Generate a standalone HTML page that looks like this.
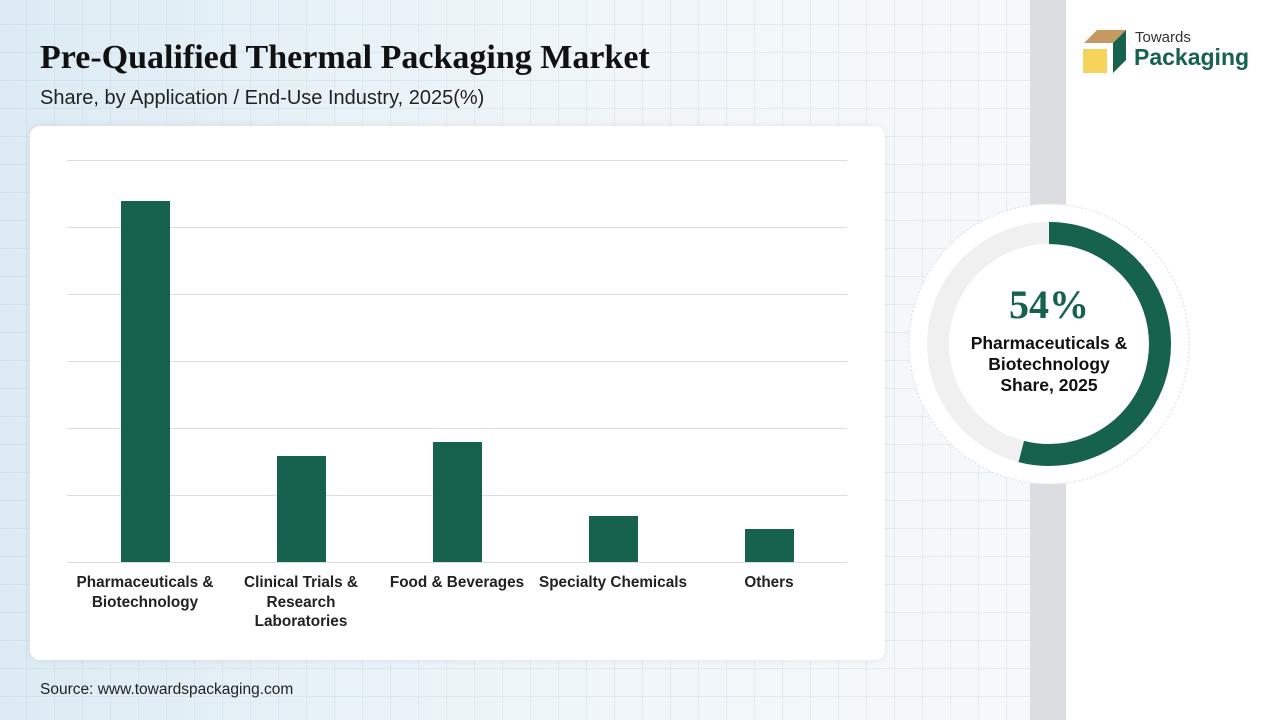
<!DOCTYPE html>
<html><head><style>
body{margin:0;width:1280px;height:720px;overflow:hidden;font-family:"Liberation Sans",sans-serif;position:relative;
background:linear-gradient(90deg,#dcebf3 0%,#eef5f9 40%,#f6f9fb 80%,#fff 100%);}
.grid{position:absolute;left:0;top:0;width:1030px;height:720px;
background-image:linear-gradient(rgba(180,200,215,.25) 1px,transparent 1px),linear-gradient(90deg,rgba(180,200,215,.25) 1px,transparent 1px);background-size:28px 28px;background-position:-2px -4px;}
.strip{position:absolute;left:1030px;top:0;width:36px;height:720px;background:#dcdde0}
.right{position:absolute;left:1066px;top:0;width:214px;height:720px;background:#fff}
h1{position:absolute;left:40px;top:39px;margin:0;font-family:"Liberation Serif",serif;font-size:34px;font-weight:bold;color:#111;white-space:nowrap}
.sub{position:absolute;left:40px;top:87px;font-size:20px;color:#222;white-space:nowrap}
.card{position:absolute;left:30px;top:126px;width:855px;height:534px;background:#fff;border-radius:10px;box-shadow:0 0 8px rgba(0,0,0,.08)}
.lbl{position:absolute;width:170px;text-align:center;font-size:15.3px;font-weight:bold;color:#222;line-height:19.5px;top:573px}
.src{position:absolute;left:40px;top:681px;font-size:15.5px;color:#222}
</style></head><body>
<div class="grid"></div><div class="strip"></div><div class="right"></div>
<h1>Pre-Qualified Thermal Packaging Market</h1>
<div class="sub">Share, by Application / End-Use Industry, 2025(%)</div>
<div class="card"></div>
<svg style="position:absolute;left:0;top:0" width="1280" height="720">
<g stroke="#dcdcdc" stroke-width="1">
<line x1="67" x2="847" y1="160.5" y2="160.5"/><line x1="67" x2="847" y1="227.5" y2="227.5"/><line x1="67" x2="847" y1="294.5" y2="294.5"/><line x1="67" x2="847" y1="361.5" y2="361.5"/><line x1="67" x2="847" y1="428.5" y2="428.5"/><line x1="67" x2="847" y1="495.5" y2="495.5"/><line x1="67" x2="847" y1="562.5" y2="562.5"/></g>
<g fill="#17614f">
<rect x="121" y="201" width="49" height="361"/><rect x="277" y="456" width="49" height="106"/><rect x="433" y="442" width="49" height="120"/><rect x="589" y="516" width="49" height="46"/><rect x="745" y="529" width="49" height="33"/></g>
<circle cx="1049" cy="344" r="140" fill="#fff" stroke="#e6e6e6" stroke-width="1.5" stroke-dasharray="2 2"/>
<circle cx="1049" cy="344" r="111" fill="none" stroke="#f0f0f0" stroke-width="22"/>
<circle cx="1049" cy="344" r="111" fill="none" stroke="#17614f" stroke-width="22" stroke-dasharray="376.6 1000" transform="rotate(-90 1049 344)"/>
<text x="1049" y="318" text-anchor="middle" font-family="Liberation Serif,serif" font-weight="bold" font-size="40" fill="#17614f">54%</text>
<g font-family="Liberation Sans,sans-serif" font-weight="bold" font-size="17.5" fill="#111" text-anchor="middle">
<text x="1049" y="349">Pharmaceuticals &amp;</text><text x="1049" y="370">Biotechnology</text><text x="1049" y="391">Share, 2025</text></g>
<polygon points="1084,43 1097,30 1126,30 1113,43" fill="#c49a62"/>
<rect x="1083" y="49" width="24" height="24" fill="#f6d35a"/>
<polygon points="1113,43 1126,30 1126,60 1113,73" fill="#17614f"/>
<text x="1135" y="42" font-family="Liberation Sans,sans-serif" font-size="15" fill="#333">Towards</text>
<text x="1134" y="65" font-family="Liberation Sans,sans-serif" font-weight="bold" font-size="23" fill="#17614f">Packaging</text>
</svg>
<div class="lbl" style="left:60px">Pharmaceuticals &amp;<br>Biotechnology</div>
<div class="lbl" style="left:216px">Clinical Trials &amp;<br>Research<br>Laboratories</div>
<div class="lbl" style="left:372px">Food &amp; Beverages</div>
<div class="lbl" style="left:528px">Specialty Chemicals</div>
<div class="lbl" style="left:684px">Others</div>
<div class="src">Source: www.towardspackaging.com</div>
</body></html>
